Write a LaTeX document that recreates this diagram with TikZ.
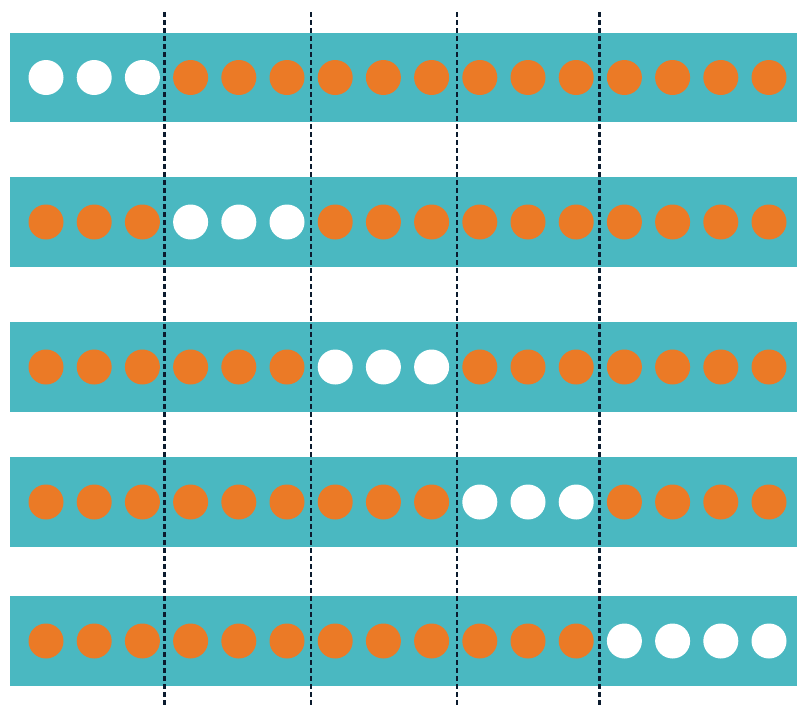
\documentclass[tikz,border=0pt]{standalone}
\definecolor{band}{HTML}{4AB8C1}
\definecolor{dot}{HTML}{EB7A26}
\definecolor{sep}{HTML}{0B1B2E}
\begin{document}
\begin{tikzpicture}[x=1pt,y=-1pt,
  sepline/.style={draw=sep,line width=2.7pt,dash pattern=on 4.5pt off 3.5pt}]
\useasboundingbox (0,0) rectangle (797,707);
% row centres
\foreach \r/\yc/\a/\b in {1/77.5/0/2, 2/222/3/5, 3/367/6/8, 4/502/9/11, 5/641/12/15}{
  \fill[band] (9.5,\yc-44.7) rectangle (797,\yc+44.7);
  \foreach \i in {0,...,15}{
    \pgfmathsetmacro{\xc}{46+48.2*\i}
    \ifnum\i<\a
      \fill[dot] (\xc,\yc) circle (17.5);
    \else\ifnum\i>\b
      \fill[dot] (\xc,\yc) circle (17.5);
    \else
      \fill[white] (\xc,\yc) circle (17.5);
    \fi\fi
  }
}
\foreach \x [count=\k] in {164.5,311,457,599.5}{
  \coordinate (t\k) at (\x,12);
  \coordinate (b\k) at (\x,705);
  \draw[sepline] (t\k) -- (b\k);
}
\end{tikzpicture}
\end{document}
